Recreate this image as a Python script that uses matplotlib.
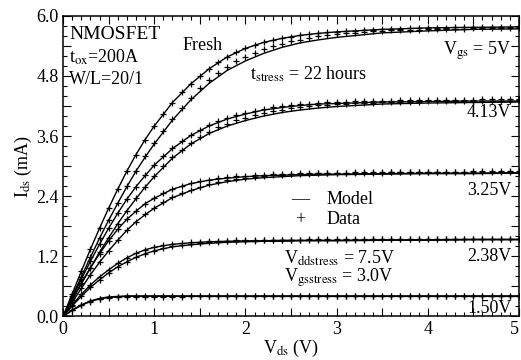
import numpy as np
import matplotlib
matplotlib.use("Agg")
import matplotlib.pyplot as plt
from matplotlib.ticker import MultipleLocator, FuncFormatter

plt.rcParams['font.family'] = ['Liberation Serif', 'DejaVu Serif']
plt.rcParams['mathtext.fontset'] = 'stix'

# drain voltage grid of the measured points (V)
V_DATA = [0.0, 0.1, 0.2, 0.3, 0.4, 0.5, 0.6, 0.7, 0.8, 0.9,
          1.0, 1.1, 1.2, 1.3, 1.4, 1.5, 1.6, 1.7, 1.8, 1.9,
          2.0, 2.1, 2.2, 2.3, 2.4, 2.5, 2.6, 2.7, 2.8, 2.9,
          3.0, 3.1, 3.2, 3.3, 3.4, 3.5, 3.6, 3.7, 3.8, 3.9,
          4.0, 4.1, 4.2, 4.3, 4.4, 4.5, 4.6, 4.7, 4.8, 4.9, 5.0]

# drain voltage grid of the model curves (V)
V_MODEL = [0.0, 0.1, 0.2, 0.3, 0.4, 0.5, 0.6, 0.7, 0.8, 0.9, 1.0,
           1.2, 1.4, 1.6, 1.8, 2.0, 2.2, 2.4, 2.6, 2.8, 3.0,
           3.5, 4.0, 4.5, 5.0]

# measured Ids (mA)
FRESH_5_DATA = [0.00, 0.45, 0.90, 1.34, 1.76, 2.16, 2.54, 2.90, 3.23, 3.53,
                3.80, 4.05, 4.27, 4.47, 4.64, 4.80, 4.94, 5.07, 5.18, 5.27,
                5.35, 5.42, 5.47, 5.51, 5.55, 5.58, 5.61, 5.63, 5.65, 5.67,
                5.68, 5.69, 5.70, 5.71, 5.72, 5.73, 5.73, 5.74, 5.75, 5.75,
                5.76, 5.76, 5.76, 5.77, 5.77, 5.77, 5.77, 5.78, 5.78, 5.78, 5.78]
STRESS_5_DATA = [0.00, 0.40, 0.79, 1.18, 1.56, 1.92, 2.27, 2.60, 2.91, 3.20,
                 3.46, 3.71, 3.95, 4.17, 4.37, 4.55, 4.71, 4.86, 4.98, 5.09,
                 5.18, 5.26, 5.33, 5.39, 5.44, 5.49, 5.52, 5.56, 5.59, 5.61,
                 5.63, 5.65, 5.66, 5.68, 5.69, 5.70, 5.71, 5.71, 5.72, 5.72,
                 5.73, 5.73, 5.74, 5.74, 5.74, 5.75, 5.75, 5.75, 5.75, 5.76, 5.76]
FRESH_413_DATA = [0.00, 0.37, 0.74, 1.10, 1.44, 1.76, 2.06, 2.34, 2.59, 2.82,
                  3.02, 3.20, 3.36, 3.50, 3.62, 3.73, 3.82, 3.90, 3.96, 4.02,
                  4.07, 4.11, 4.15, 4.18, 4.20, 4.22, 4.24, 4.25, 4.27, 4.28,
                  4.29, 4.29, 4.30, 4.30, 4.31, 4.31, 4.31, 4.32, 4.32, 4.32,
                  4.32, 4.33, 4.33, 4.33, 4.33, 4.33, 4.34, 4.34, 4.34, 4.34, 4.34]
STRESS_413_DATA = [0.00, 0.33, 0.65, 0.97, 1.28, 1.57, 1.85, 2.11, 2.36, 2.59,
                   2.80, 3.00, 3.18, 3.33, 3.47, 3.59, 3.69, 3.78, 3.85, 3.92,
                   3.97, 4.02, 4.06, 4.10, 4.13, 4.16, 4.18, 4.20, 4.22, 4.23,
                   4.24, 4.25, 4.26, 4.27, 4.27, 4.28, 4.28, 4.29, 4.29, 4.29,
                   4.30, 4.30, 4.30, 4.30, 4.31, 4.31, 4.31, 4.31, 4.31, 4.31, 4.32]
FRESH_325_DATA = [0.00, 0.33, 0.66, 0.97, 1.25, 1.51, 1.74, 1.94, 2.11, 2.25,
                  2.37, 2.47, 2.55, 2.61, 2.66, 2.70, 2.73, 2.76, 2.78, 2.80,
                  2.81, 2.82, 2.83, 2.84, 2.85, 2.85, 2.86, 2.86, 2.87, 2.87,
                  2.87, 2.87, 2.88, 2.88, 2.88, 2.88, 2.88, 2.88, 2.89, 2.89,
                  2.89, 2.89, 2.89, 2.89, 2.89, 2.90, 2.90, 2.90, 2.90, 2.90, 2.90]
STRESS_325_DATA = [0.00, 0.28, 0.56, 0.83, 1.08, 1.31, 1.53, 1.72, 1.89, 2.04,
                   2.17, 2.28, 2.38, 2.46, 2.53, 2.59, 2.64, 2.68, 2.72, 2.75,
                   2.77, 2.79, 2.81, 2.82, 2.83, 2.84, 2.85, 2.85, 2.86, 2.86,
                   2.86, 2.87, 2.87, 2.87, 2.87, 2.87, 2.88, 2.88, 2.88, 2.88,
                   2.88, 2.88, 2.88, 2.88, 2.88, 2.88, 2.88, 2.88, 2.88, 2.88, 2.88]
FRESH_238_DATA = [0.00, 0.23, 0.44, 0.63, 0.79, 0.93, 1.06, 1.17, 1.26, 1.33,
                  1.38, 1.42, 1.45, 1.47, 1.48, 1.49, 1.50, 1.51, 1.51, 1.52,
                  1.52, 1.52, 1.53, 1.53, 1.53, 1.53, 1.53, 1.54, 1.54, 1.54,
                  1.54, 1.54, 1.54, 1.54, 1.54, 1.55, 1.55, 1.55, 1.55, 1.55,
                  1.55, 1.55, 1.55, 1.55, 1.55, 1.55, 1.55, 1.55, 1.55, 1.55, 1.55]
STRESS_238_DATA = [0.00, 0.21, 0.40, 0.58, 0.73, 0.87, 0.99, 1.09, 1.18, 1.25,
                   1.31, 1.36, 1.40, 1.43, 1.45, 1.47, 1.48, 1.49, 1.50, 1.50,
                   1.51, 1.51, 1.52, 1.52, 1.52, 1.52, 1.53, 1.53, 1.53, 1.53,
                   1.53, 1.53, 1.53, 1.53, 1.54, 1.54, 1.54, 1.54, 1.54, 1.54,
                   1.54, 1.54, 1.54, 1.54, 1.54, 1.54, 1.54, 1.54, 1.54, 1.54, 1.54]
FRESH_150_DATA = [0.00, 0.13, 0.23, 0.30, 0.35, 0.38, 0.39, 0.40, 0.40, 0.40,
                  0.40, 0.40, 0.40, 0.40, 0.40, 0.40, 0.40, 0.41, 0.41, 0.41,
                  0.41, 0.41, 0.41, 0.41, 0.41, 0.41, 0.41, 0.41, 0.41, 0.41,
                  0.41, 0.41, 0.41, 0.41, 0.41, 0.41, 0.41, 0.41, 0.41, 0.41,
                  0.41, 0.41, 0.41, 0.41, 0.41, 0.41, 0.41, 0.41, 0.41, 0.41, 0.41]
STRESS_150_DATA = [0.00, 0.12, 0.22, 0.29, 0.34, 0.37, 0.38, 0.39, 0.39, 0.39,
                   0.39, 0.39, 0.39, 0.39, 0.40, 0.40, 0.40, 0.40, 0.40, 0.40,
                   0.40, 0.40, 0.40, 0.40, 0.40, 0.40, 0.40, 0.40, 0.40, 0.40,
                   0.40, 0.40, 0.40, 0.40, 0.40, 0.40, 0.40, 0.40, 0.40, 0.40,
                   0.40, 0.40, 0.40, 0.40, 0.40, 0.40, 0.40, 0.40, 0.40, 0.40, 0.40]

# model Ids (mA)
FRESH_5_MODEL = [0.00, 0.45, 0.90, 1.34, 1.76, 2.16, 2.54, 2.90, 3.23, 3.53, 3.80,
                 4.27, 4.64, 4.94, 5.18, 5.35, 5.47, 5.55, 5.61, 5.65, 5.68,
                 5.73, 5.76, 5.77, 5.78]
STRESS_5_MODEL = [0.00, 0.40, 0.79, 1.18, 1.56, 1.92, 2.26, 2.59, 2.90, 3.18, 3.44,
                  3.92, 4.32, 4.65, 4.91, 5.10, 5.25, 5.37, 5.46, 5.52, 5.57,
                  5.66, 5.70, 5.73, 5.74]
FRESH_413_MODEL = [0.00, 0.37, 0.74, 1.10, 1.44, 1.76, 2.06, 2.34, 2.59, 2.81, 3.02,
                   3.35, 3.61, 3.80, 3.94, 4.04, 4.12, 4.17, 4.21, 4.24, 4.25,
                   4.28, 4.29, 4.30, 4.30]
STRESS_413_MODEL = [0.00, 0.33, 0.65, 0.97, 1.28, 1.57, 1.85, 2.11, 2.35, 2.58, 2.79,
                    3.16, 3.44, 3.65, 3.80, 3.91, 4.00, 4.07, 4.12, 4.16, 4.19,
                    4.24, 4.26, 4.27, 4.28]
FRESH_325_MODEL = [0.00, 0.33, 0.66, 0.97, 1.25, 1.51, 1.74, 1.94, 2.10, 2.25, 2.36,
                   2.54, 2.65, 2.72, 2.76, 2.79, 2.81, 2.82, 2.83, 2.84, 2.84,
                   2.85, 2.86, 2.86, 2.87]
STRESS_325_MODEL = [0.00, 0.28, 0.56, 0.83, 1.08, 1.31, 1.52, 1.72, 1.89, 2.03, 2.16,
                    2.37, 2.51, 2.62, 2.69, 2.74, 2.77, 2.79, 2.81, 2.82, 2.83,
                    2.84, 2.85, 2.85, 2.86]
FRESH_238_MODEL = [0.00, 0.23, 0.44, 0.63, 0.79, 0.93, 1.06, 1.17, 1.26, 1.33, 1.38,
                   1.44, 1.47, 1.49, 1.50, 1.51, 1.51, 1.52, 1.52, 1.52, 1.52,
                   1.53, 1.53, 1.54, 1.54]
STRESS_238_MODEL = [0.00, 0.21, 0.40, 0.58, 0.73, 0.87, 0.99, 1.09, 1.18, 1.25, 1.31,
                    1.39, 1.43, 1.46, 1.48, 1.49, 1.50, 1.50, 1.51, 1.51, 1.51,
                    1.52, 1.52, 1.53, 1.53]
FRESH_150_MODEL = [0.00, 0.13, 0.23, 0.31, 0.36, 0.39, 0.40, 0.41, 0.41, 0.41, 0.41,
                   0.41, 0.41, 0.41, 0.41, 0.41, 0.41, 0.41, 0.41, 0.41, 0.41,
                   0.41, 0.41, 0.41, 0.41]
STRESS_150_MODEL = [0.00, 0.12, 0.22, 0.30, 0.35, 0.38, 0.39, 0.40, 0.40, 0.40, 0.40,
                    0.40, 0.40, 0.40, 0.40, 0.40, 0.40, 0.40, 0.40, 0.40, 0.40,
                    0.40, 0.40, 0.40, 0.40]

MODELS = [FRESH_5_MODEL, STRESS_5_MODEL, FRESH_413_MODEL, STRESS_413_MODEL,
          FRESH_325_MODEL, STRESS_325_MODEL, FRESH_238_MODEL, STRESS_238_MODEL,
          FRESH_150_MODEL, STRESS_150_MODEL]
DATAS = [FRESH_5_DATA, STRESS_5_DATA, FRESH_413_DATA, STRESS_413_DATA,
         FRESH_325_DATA, STRESS_325_DATA, FRESH_238_DATA, STRESS_238_DATA,
         FRESH_150_DATA, STRESS_150_DATA]

VGS_LABELS = [r'V$_{\mathrm{gs}}$ = 5V', '4.13V', '3.25V', '2.38V', '1.50V']
VGS_LABEL_Y = [5.30, 4.08, 2.52, 1.20, 0.16]

FS = 13

fig = plt.figure(figsize=(5.21, 3.60), dpi=100)
ax = fig.add_axes([0.121, 0.121, 0.875, 0.835])

for ids in MODELS:
    ax.plot(V_MODEL, ids, color='black', lw=1.0)
for ids in DATAS:
    ax.plot(V_DATA, ids, ls='none', marker='+', ms=3.8, mew=0.9, color='black')

ax.set_xlim(0, 5)
ax.set_ylim(0, 6)

ax.xaxis.set_major_locator(MultipleLocator(0.5))
ax.xaxis.set_minor_locator(MultipleLocator(0.1))
ax.yaxis.set_major_locator(MultipleLocator(0.6))
ax.yaxis.set_minor_locator(MultipleLocator(0.2))
ax.xaxis.set_major_formatter(FuncFormatter(
    lambda v, p: '%d' % round(v) if abs(v - round(v)) < 1e-6 else ''))
ax.yaxis.set_major_formatter(FuncFormatter(
    lambda v, p: '%.1f' % v if abs(v / 1.2 - round(v / 1.2)) < 1e-6 else ''))
ax.tick_params(which='both', direction='in', top=True, right=True,
               labelsize=FS, width=0.8, pad=3)
ax.tick_params(which='major', length=6)
ax.tick_params(which='minor', length=3)
for sp in ax.spines.values():
    sp.set_linewidth(1.1)

ax.set_xlabel(r'V$_{\mathrm{ds}}$ (V)', fontsize=FS, labelpad=0)
ax.set_ylabel(r'I$_{\mathrm{ds}}$ (mA)', fontsize=FS, labelpad=2)

ax.text(0.07, 5.62, 'NMOSFET', fontsize=FS + 1, va='center')
ax.text(0.07, 5.17, r't$_{\mathrm{ox}}$=200A', fontsize=FS, va='center')
ax.text(0.07, 4.73, 'W/L=20/1', fontsize=FS, va='center')
ax.text(1.31, 5.40, 'Fresh', fontsize=FS, va='center')
ax.text(2.05, 4.83, r't$_{\mathrm{stress}}$ = 22 hours', fontsize=FS, va='center')

for lab, y in zip(VGS_LABELS, VGS_LABEL_Y):
    ax.text(4.92, y, lab, fontsize=FS, va='center', ha='right')

ax.text(2.60, 2.33, '\u2014', fontsize=FS, va='center', ha='center')
ax.text(2.89, 2.33, 'Model', fontsize=FS, va='center')
ax.text(2.60, 1.93, '+', fontsize=FS, va='center', ha='center')
ax.text(2.89, 1.93, 'Data', fontsize=FS, va='center')
ax.text(2.42, 1.17, r'V$_{\mathrm{ddstress}}$ = 7.5V', fontsize=FS, va='center')
ax.text(2.42, 0.78, r'V$_{\mathrm{gsstress}}$ = 3.0V', fontsize=FS, va='center')

# keep the last x tick label inside the figure
fig.canvas.draw()
for lab in ax.get_xticklabels():
    if lab.get_text() == '5':
        lab.set_horizontalalignment('right')

fig.savefig('out.png', dpi=100)
